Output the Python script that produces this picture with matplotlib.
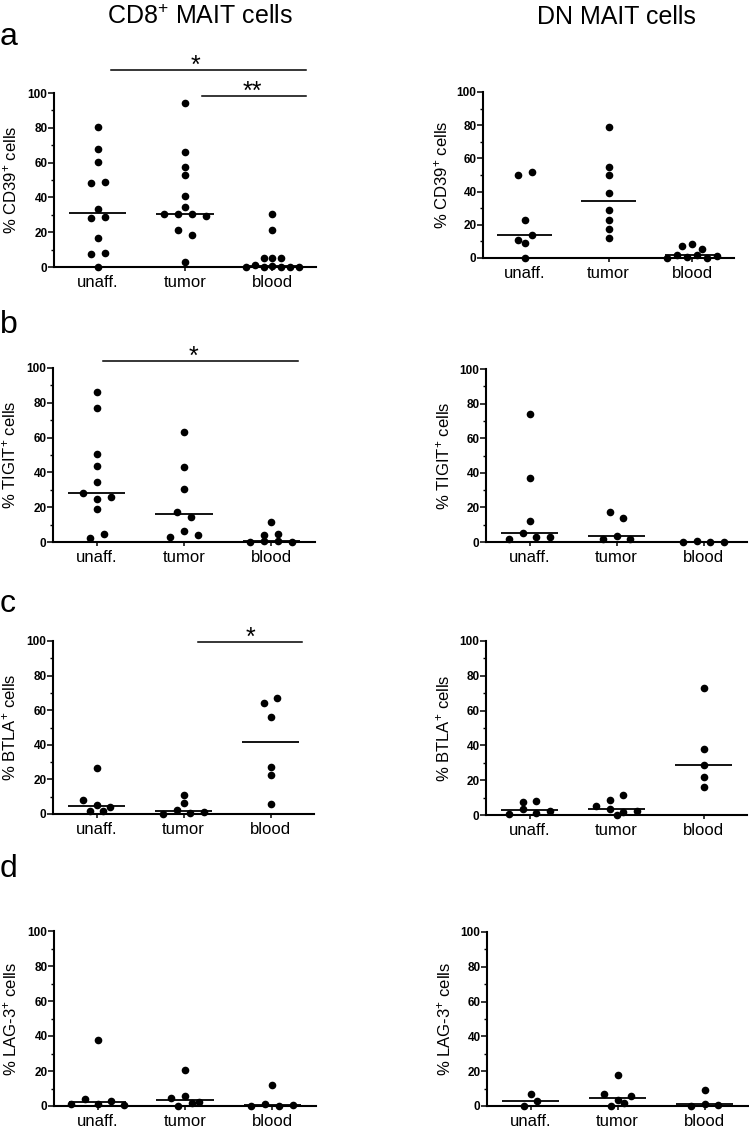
import numpy as np
import matplotlib
matplotlib.use('Agg')
import matplotlib.pyplot as plt
from matplotlib.ticker import MultipleLocator
from matplotlib.transforms import offset_copy

plt.rcParams['font.family'] = ['Liberation Sans', 'DejaVu Sans']
plt.rcParams['mathtext.fontset'] = 'custom'
plt.rcParams['mathtext.rm'] = 'Liberation Sans'
plt.rcParams['mathtext.it'] = 'Liberation Sans:italic'
plt.rcParams['mathtext.bf'] = 'Liberation Sans:bold'

groups = ['unaff.', 'tumor', 'blood']
y_ticks = [0, 20, 40, 60, 80, 100]

# CD8+ MAIT cells (% positive)
cd8_cd39_unaff = [80.4, 67.9, 60.2, 48.3, 48.8, 33.3, 27.9, 28.7, 16.5, 7.7, 7.9, 0.0]
cd8_cd39_tumor = [94.4, 66.0, 57.7, 53.1, 40.8, 34.4, 30.2, 30.2, 30.2, 29.2, 21.5, 18.5, 2.9]
cd8_cd39_blood = [30.2, 21.5, 5.4, 5.4, 5.4, 0.0, 1.0, 0.0, 0.3, 0.0, 0.2, 0.0]

cd8_tigit_unaff = [86.0, 77.1, 50.8, 43.8, 34.4, 27.9, 24.6, 25.6, 19.0, 2.1, 4.6]
cd8_tigit_tumor = [63.5, 43.1, 30.2, 17.3, 14.6, 2.7, 6.5, 4.2]
cd8_tigit_blood = [11.5, 3.8, 4.6, 0.0, 0.5, 0.5, 0.0]

cd8_btla_unaff = [7.9, 1.5, 5.2, 1.5, 4.2, 26.7]
cd8_btla_tumor = [0.0, 2.1, 0.4, 1.2, 11.0, 6.3]
cd8_btla_blood = [64.2, 67.3, 56.2, 27.3, 22.7, 5.8]

cd8_lag3_unaff = [1.1, 4.0, 1.1, 3.1, 0.4, 38.0]
cd8_lag3_tumor = [4.8, 0.0, 20.4, 5.9, 1.5, 2.5]
cd8_lag3_blood = [0.0, 1.3, 11.8, 0.0, 0.6]

# DN MAIT cells (% positive)
dn_cd39_unaff = [50.0, 52.0, 23.0, 11.0, 13.8, 8.8, 0.0]
dn_cd39_tumor = [79.0, 54.6, 49.8, 39.4, 29.0, 22.6, 17.4, 11.8]
dn_cd39_blood = [7.0, 8.4, 5.2, 0.0, 1.6, 0.8, 1.6, 0.0, 1.0]

dn_tigit_unaff = [73.8, 36.8, 12.3, 1.7, 5.2, 3.1, 3.1]
dn_tigit_tumor = [17.5, 13.7, 1.7, 3.5, 1.7]
dn_tigit_blood = [0.0, 0.6, 0.0, 0.0]

dn_btla_unaff = [7.5, 0.8, 3.6, 8.0, 1.0, 2.5]
dn_btla_tumor = [5.4, 0.2, 3.3, 8.4, 11.5, 1.5, 2.5]
dn_btla_blood = [72.8, 37.7, 28.7, 22.0, 16.3]

dn_lag3_unaff = [0.0, 6.9, 2.8]
dn_lag3_tumor = [6.7, 0.0, 17.8, 3.4, 5.9, 1.7]
dn_lag3_blood = [0.0, 9.2, 1.3, 0.8]

ylabels = ['% CD39$^{+}$ cells', '% TIGIT$^{+}$ cells',
           '% BTLA$^{+}$ cells', '% LAG-3$^{+}$ cells']
panel_letters = ['a', 'b', 'c', 'd']

# significance bars on the CD8 panels: (row, x0, x1, y, star x, label)
sig_bars = [
    (0, 0.15, 2.38, 113, 1.12, '*'),
    (0, 1.19, 2.38, 98.3, 1.77, '**'),
    (1, 0.07, 2.30, 104, 1.11, '*'),
    (2, 1.17, 2.36, 99.6, 1.77, '*'),
]

W, H = 749, 1128


def px_rect(x0, x1, ytop, ybot):
    return [x0 / W, 1 - ybot / H, (x1 - x0) / W, (ybot - ytop) / H]


def swarm_offsets(vals, tol=4.0, max_gap=0.16, max_width=0.6):
    """GraphPad-like spreading: near-equal values share a row, centred."""
    vals = np.asarray(vals, dtype=float)
    order = np.argsort(-vals, kind='stable')
    rows, cur = [], [order[0]]
    for idx in order[1:]:
        if vals[cur[0]] - vals[idx] < tol:
            cur.append(idx)
        else:
            rows.append(cur)
            cur = [idx]
    rows.append(cur)
    nmax = max(len(r) for r in rows)
    gap = max_gap if nmax < 2 else min(max_gap, max_width / (nmax - 1))
    offs = np.zeros(len(vals))
    for r in rows:
        r = sorted(r)
        n = len(r)
        for k, idx in enumerate(r):
            offs[idx] = (k - (n - 1) / 2) * gap
    return offs


def draw_panel(ax, series, ylabel, label_x):
    for i, vals in enumerate(series):
        offs = swarm_offsets(vals)
        ax.plot(i + offs, vals, 'o', color='black', ms=5.5, mew=0,
                clip_on=False, zorder=3)
        med = np.median(vals)
        ax.hlines(med, i - 0.33, i + 0.33, color='black', lw=1.3, zorder=2)
    ax.set_xlim(-0.5, 2.5)
    ax.set_ylim(0, 100)
    for s in ['top', 'right']:
        ax.spines[s].set_visible(False)
    for s in ['left', 'bottom']:
        ax.spines[s].set_linewidth(1.5)
    ax.set_xticks(range(len(groups)))
    ax.set_xticklabels(groups, fontsize=12)
    ax.set_yticks(y_ticks, [str(t) for t in y_ticks], fontsize=8.5, fontweight='bold')
    ax.yaxis.set_minor_locator(MultipleLocator(10))
    ax.tick_params(axis='x', length=3, width=1.1, pad=3)
    ax.tick_params(axis='y', which='major', length=4, width=1.1, pad=0.6)
    ax.tick_params(axis='y', which='minor', length=2.2, width=1.0)
    ax.set_ylabel(ylabel, fontsize=12)
    ax.yaxis.set_label_coords(label_x, 0.5)


cd8_series = [
    [cd8_cd39_unaff, cd8_cd39_tumor, cd8_cd39_blood],
    [cd8_tigit_unaff, cd8_tigit_tumor, cd8_tigit_blood],
    [cd8_btla_unaff, cd8_btla_tumor, cd8_btla_blood],
    [cd8_lag3_unaff, cd8_lag3_tumor, cd8_lag3_blood],
]
dn_series = [
    [dn_cd39_unaff, dn_cd39_tumor, dn_cd39_blood],
    [dn_tigit_unaff, dn_tigit_tumor, dn_tigit_blood],
    [dn_btla_unaff, dn_btla_tumor, dn_btla_blood],
    [dn_lag3_unaff, dn_lag3_tumor, dn_lag3_blood],
]

# pixel boxes (x0, x1, y at 100, y at 0)
left_boxes = [(54, 316, 93, 267), (53, 315, 368, 542),
              (53, 314, 641, 814), (54, 316, 931, 1106)]
right_boxes = [(483, 734, 92, 258), (486, 747, 369, 542),
               (486, 747, 641, 815), (487, 748, 932, 1106)]
letter_baselines = [45, 333, 612, 877]

fig = plt.figure(figsize=(W / 100, H / 100), dpi=100)

left_axes = []
for row in range(4):
    axl = fig.add_axes(px_rect(*left_boxes[row]))
    draw_panel(axl, cd8_series[row], ylabels[row], -0.132)
    left_axes.append(axl)
    axr = fig.add_axes(px_rect(*right_boxes[row]))
    draw_panel(axr, dn_series[row], ylabels[row], -0.13)
    fig.text(0.0, 1 - letter_baselines[row] / H, panel_letters[row],
             fontsize=23, ha='left', va='baseline')

# significance brackets and stars
for row, x0, x1, y, sx, lab in sig_bars:
    ax = left_axes[row]
    ax.plot([x0, x1], [y, y], color='black', lw=1.1, clip_on=False)
    tr = offset_copy(ax.transData, fig=fig, x=0, y=-2.0, units='points')
    ax.text(sx, y, lab, transform=tr, ha='center', va='baseline',
            fontsize=18, clip_on=False)

fig.text(200 / W, 1 - 24 / H, 'CD8$^{+}$ MAIT cells', ha='center',
         va='baseline', fontsize=18)
fig.text(616 / W, 1 - 24 / H, 'DN MAIT cells', ha='center',
         va='baseline', fontsize=18)

fig.savefig('out.png', dpi=100)
